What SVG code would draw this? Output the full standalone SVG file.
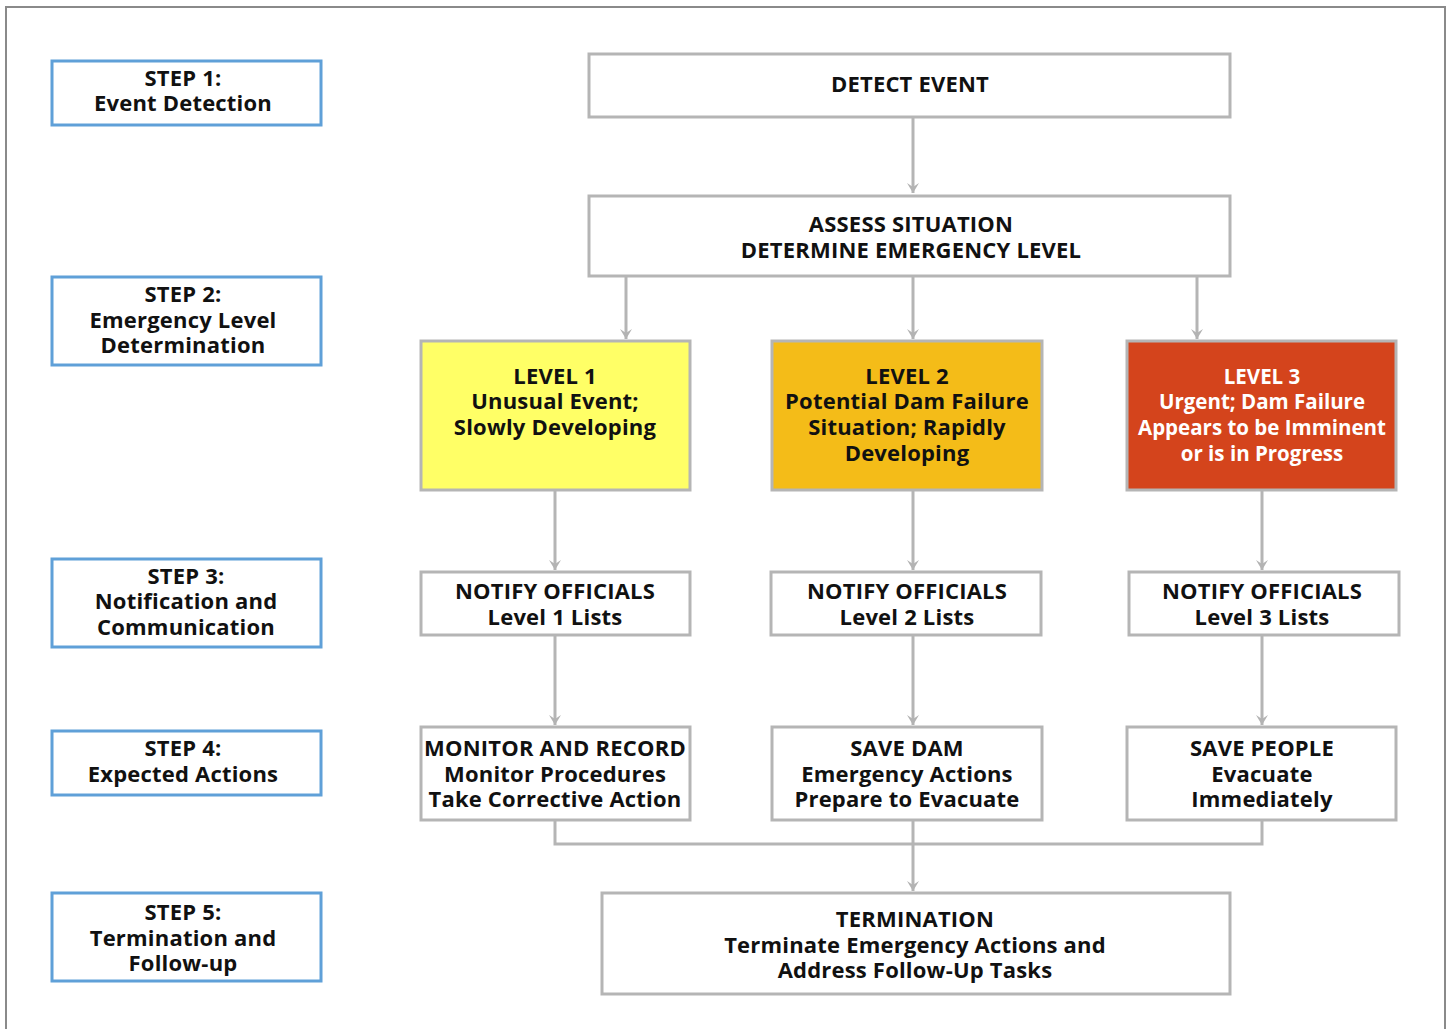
<svg xmlns="http://www.w3.org/2000/svg" width="1451" height="1029" viewBox="0 0 1451 1029">
<defs>
<marker id="ah" markerUnits="userSpaceOnUse" markerWidth="14" markerHeight="14" viewBox="0 0 14 14" refX="12" refY="7" orient="auto">
<path d="M2,1 L12,7 L2,13 L6,7 Z" fill="#b3b3b3"/>
</marker>
</defs>
<style>
.frame{fill:none;stroke:#8a8a8a;stroke-width:2}
.step{fill:#fff;stroke:#5fa0d8;stroke-width:3}
.box{fill:#fff;stroke:#b5b5b5;stroke-width:3}
.l1{fill:#ffff66;stroke:#b5b5b5;stroke-width:3}
.l2{fill:#f4bc18;stroke:#b5b5b5;stroke-width:3}
.l3{fill:#d4441c;stroke:#b5b5b5;stroke-width:3}
text{font-family:"Open Sans","Noto Sans","DejaVu Sans",sans-serif;font-weight:700;font-size:22px;letter-spacing:0.2px;fill:#111;text-anchor:middle}
.w{fill:#fff;font-size:20.5px;letter-spacing:0}
.c{fill:none;stroke:#b5b5b5;stroke-width:3}
</style>
<rect width="1451" height="1029" fill="#fff"/>
<path class="frame" d="M6,1029 L6,7 L1445,7 L1445,1029"/>

<g id="step1"><rect class="step" x="52" y="61" width="269" height="64"/><text x="183" y="86">STEP 1:</text><text x="183" y="111">Event Detection</text></g>
<g id="step2"><rect class="step" x="52" y="277" width="269" height="88"/><text x="183" y="302">STEP 2:</text><text x="183" y="328">Emergency Level</text><text x="183" y="353">Determination</text></g>
<g id="step3"><rect class="step" x="52" y="559" width="269" height="88"/><text x="186" y="584">STEP 3:</text><text x="186" y="609">Notification and</text><text x="186" y="635">Communication</text></g>
<g id="step4"><rect class="step" x="52" y="731" width="269" height="64"/><text x="183" y="756">STEP 4:</text><text x="183" y="782">Expected Actions</text></g>
<g id="step5"><rect class="step" x="52" y="893" width="269" height="88"/><text x="183" y="920">STEP 5:</text><text x="183" y="946">Termination and</text><text x="183" y="971">Follow-up</text></g>

<g id="connectors">
<path class="c" d="M913,117 V193" marker-end="url(#ah)"/>
<path class="c" d="M626,276 V339" marker-end="url(#ah)"/>
<path class="c" d="M913,276 V339" marker-end="url(#ah)"/>
<path class="c" d="M1197,276 V339" marker-end="url(#ah)"/>
<path class="c" d="M555,490 V570" marker-end="url(#ah)"/>
<path class="c" d="M913,490 V570" marker-end="url(#ah)"/>
<path class="c" d="M1262,490 V570" marker-end="url(#ah)"/>
<path class="c" d="M555,635 V725" marker-end="url(#ah)"/>
<path class="c" d="M913,635 V725" marker-end="url(#ah)"/>
<path class="c" d="M1262,635 V725" marker-end="url(#ah)"/>
<path class="c" d="M555,820 V844 H1262 V820"/>
<path class="c" d="M913,820 V891" marker-end="url(#ah)"/>
</g>

<g id="detect"><rect class="box" x="589" y="54" width="641" height="63"/><text x="910" y="92">DETECT EVENT</text></g>
<g id="assess"><rect class="box" x="589" y="196" width="641" height="80"/><text x="911" y="232">ASSESS SITUATION</text><text x="911" y="258">DETERMINE EMERGENCY LEVEL</text></g>

<g id="level1"><rect class="l1" x="421" y="341" width="269" height="149"/><text x="555" y="384">LEVEL 1</text><text x="555" y="409">Unusual Event;</text><text x="555" y="435">Slowly Developing</text></g>
<g id="level2"><rect class="l2" x="772" y="341" width="270" height="149"/><text x="907" y="384">LEVEL 2</text><text x="907" y="409">Potential Dam Failure</text><text x="907" y="435">Situation; Rapidly</text><text x="907" y="461">Developing</text></g>
<g id="level3"><rect class="l3" x="1127" y="341" width="269" height="149"/><text class="w" x="1262" y="384">LEVEL 3</text><text class="w" x="1262" y="409">Urgent; Dam Failure</text><text class="w" x="1262" y="435">Appears to be Imminent</text><text class="w" x="1262" y="461">or is in Progress</text></g>

<g id="notify1"><rect class="box" x="421" y="572" width="269" height="63"/><text x="555" y="599">NOTIFY OFFICIALS</text><text x="555" y="625">Level 1 Lists</text></g>
<g id="notify2"><rect class="box" x="771" y="572" width="270" height="63"/><text x="907" y="599">NOTIFY OFFICIALS</text><text x="907" y="625">Level 2 Lists</text></g>
<g id="notify3"><rect class="box" x="1129" y="572" width="270" height="63"/><text x="1262" y="599">NOTIFY OFFICIALS</text><text x="1262" y="625">Level 3 Lists</text></g>

<g id="monitor"><rect class="box" x="421" y="727" width="269" height="93"/><text x="555" y="756">MONITOR AND RECORD</text><text x="555" y="782">Monitor Procedures</text><text x="555" y="807">Take Corrective Action</text></g>
<g id="savedam"><rect class="box" x="772" y="727" width="270" height="93"/><text x="907" y="756">SAVE DAM</text><text x="907" y="782">Emergency Actions</text><text x="907" y="807">Prepare to Evacuate</text></g>
<g id="savepeople"><rect class="box" x="1127" y="727" width="269" height="93"/><text x="1262" y="756">SAVE PEOPLE</text><text x="1262" y="782">Evacuate</text><text x="1262" y="807">Immediately</text></g>

<g id="termination"><rect class="box" x="602" y="893" width="628" height="101"/><text x="915" y="927">TERMINATION</text><text x="915" y="953">Terminate Emergency Actions and</text><text x="915" y="978">Address Follow-Up Tasks</text></g>
</svg>
